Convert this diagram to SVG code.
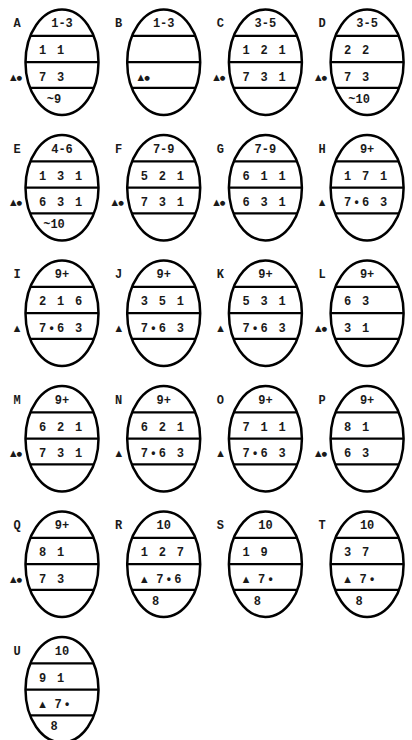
<svg xmlns="http://www.w3.org/2000/svg" xmlns:xlink="http://www.w3.org/1999/xlink" width="412" height="740" viewBox="0 0 412 740">
<style>
.eg{fill:none;stroke:#000;stroke-width:2.5}
.ln{stroke:#000;stroke-width:2.2}
text{font-family:"Liberation Mono","DejaVu Sans Mono",monospace;font-size:12px;font-weight:bold;fill:#1a1a1a}
.r{letter-spacing:1.8px}
.c{text-anchor:middle}
.m{font-family:"DejaVu Sans",sans-serif;font-size:8.5px;text-anchor:middle}
.d{font-size:6.5px}
</style>
<defs>
<g id="egg">
<ellipse class="eg" cx="0" cy="0" rx="36.5" ry="52.7"/>
<line class="ln" x1="-31.6" y1="-26.4" x2="31.6" y2="-26.4"/>
<line class="ln" x1="-36.5" y1="0" x2="36.5" y2="0"/>
<line class="ln" x1="-31.9" y1="25.6" x2="31.9" y2="25.6"/>
</g>
</defs>
<g id="connectors"/>
<g id="A" transform="translate(62,62.2)"><use href="#egg"/><text class="c" x="-45" y="-35">A</text><text class="c" x="0" y="-35">1-3</text><text class="r" x="-23" y="-8">1 1</text><text class="m" x="-46" y="17.5">▲<tspan class="d">●</tspan></text><text class="r" x="-23" y="18.5">7 3</text><text class="c" x="-8" y="40.5">~9</text></g>
<g id="B" transform="translate(163.7,62.2)"><use href="#egg"/><text class="c" x="-45" y="-35">B</text><text class="c" x="0" y="-35">1-3</text><text class="m" x="-20" y="17.5">▲<tspan class="d">●</tspan></text></g>
<g id="C" transform="translate(265.4,62.2)"><use href="#egg"/><text class="c" x="-45" y="-35">C</text><text class="c" x="0" y="-35">3-5</text><text class="r" x="-23" y="-8">1 2 1</text><text class="m" x="-46" y="17.5">▲<tspan class="d">●</tspan></text><text class="r" x="-23" y="18.5">7 3 1</text></g>
<g id="D" transform="translate(367.1,62.2)"><use href="#egg"/><text class="c" x="-45" y="-35">D</text><text class="c" x="0" y="-35">3-5</text><text class="r" x="-23" y="-8">2 2</text><text class="m" x="-46" y="17.5">▲<tspan class="d">●</tspan></text><text class="r" x="-23" y="18.5">7 3</text><text class="c" x="-8" y="40.5">~10</text></g>
<g id="E" transform="translate(62,187.7)"><use href="#egg"/><text class="c" x="-45" y="-35">E</text><text class="c" x="0" y="-35">4-6</text><text class="r" x="-23" y="-8">1 3 1</text><text class="m" x="-46" y="17.5">▲<tspan class="d">●</tspan></text><text class="r" x="-23" y="18.5">6 3 1</text><text class="c" x="-8" y="40.5">~10</text></g>
<g id="F" transform="translate(163.7,187.7)"><use href="#egg"/><text class="c" x="-45" y="-35">F</text><text class="c" x="0" y="-35">7-9</text><text class="r" x="-23" y="-8">5 2 1</text><text class="m" x="-46" y="17.5">▲<tspan class="d">●</tspan></text><text class="r" x="-23" y="18.5">7 3 1</text></g>
<g id="G" transform="translate(265.4,187.7)"><use href="#egg"/><text class="c" x="-45" y="-35">G</text><text class="c" x="0" y="-35">7-9</text><text class="r" x="-23" y="-8">6 1 1</text><text class="m" x="-46" y="17.5">▲<tspan class="d">●</tspan></text><text class="r" x="-23" y="18.5">6 3 1</text></g>
<g id="H" transform="translate(367.1,187.7)"><use href="#egg"/><text class="c" x="-45" y="-35">H</text><text class="c" x="0" y="-35">9+</text><text class="r" x="-23" y="-8">1 7 1</text><text class="m" x="-45" y="17.5">▲</text><text class="r" x="-23" y="18.5">7•6 3</text></g>
<g id="I" transform="translate(62,313.2)"><use href="#egg"/><text class="c" x="-45" y="-35">I</text><text class="c" x="0" y="-35">9+</text><text class="r" x="-23" y="-8">2 1 6</text><text class="m" x="-45" y="17.5">▲</text><text class="r" x="-23" y="18.5">7•6 3</text></g>
<g id="J" transform="translate(163.7,313.2)"><use href="#egg"/><text class="c" x="-45" y="-35">J</text><text class="c" x="0" y="-35">9+</text><text class="r" x="-23" y="-8">3 5 1</text><text class="m" x="-45" y="17.5">▲</text><text class="r" x="-23" y="18.5">7•6 3</text></g>
<g id="K" transform="translate(265.4,313.2)"><use href="#egg"/><text class="c" x="-45" y="-35">K</text><text class="c" x="0" y="-35">9+</text><text class="r" x="-23" y="-8">5 3 1</text><text class="m" x="-45" y="17.5">▲</text><text class="r" x="-23" y="18.5">7•6 3</text></g>
<g id="L" transform="translate(367.1,313.2)"><use href="#egg"/><text class="c" x="-45" y="-35">L</text><text class="c" x="0" y="-35">9+</text><text class="r" x="-23" y="-8">6 3</text><text class="m" x="-46" y="17.5">▲<tspan class="d">●</tspan></text><text class="r" x="-23" y="18.5">3 1</text></g>
<g id="M" transform="translate(62,438.7)"><use href="#egg"/><text class="c" x="-45" y="-35">M</text><text class="c" x="0" y="-35">9+</text><text class="r" x="-23" y="-8">6 2 1</text><text class="m" x="-46" y="17.5">▲<tspan class="d">●</tspan></text><text class="r" x="-23" y="18.5">7 3 1</text></g>
<g id="N" transform="translate(163.7,438.7)"><use href="#egg"/><text class="c" x="-45" y="-35">N</text><text class="c" x="0" y="-35">9+</text><text class="r" x="-23" y="-8">6 2 1</text><text class="m" x="-45" y="17.5">▲</text><text class="r" x="-23" y="18.5">7•6 3</text></g>
<g id="O" transform="translate(265.4,438.7)"><use href="#egg"/><text class="c" x="-45" y="-35">O</text><text class="c" x="0" y="-35">9+</text><text class="r" x="-23" y="-8">7 1 1</text><text class="m" x="-45" y="17.5">▲</text><text class="r" x="-23" y="18.5">7•6 3</text></g>
<g id="P" transform="translate(367.1,438.7)"><use href="#egg"/><text class="c" x="-45" y="-35">P</text><text class="c" x="0" y="-35">9+</text><text class="r" x="-23" y="-8">8 1</text><text class="m" x="-46" y="17.5">▲<tspan class="d">●</tspan></text><text class="r" x="-23" y="18.5">6 3</text></g>
<g id="Q" transform="translate(62,564.2)"><use href="#egg"/><text class="c" x="-45" y="-35">Q</text><text class="c" x="0" y="-35">9+</text><text class="r" x="-23" y="-8">8 1</text><text class="m" x="-46" y="17.5">▲<tspan class="d">●</tspan></text><text class="r" x="-23" y="18.5">7 3</text></g>
<g id="R" transform="translate(163.7,564.2)"><use href="#egg"/><text class="c" x="-45" y="-35">R</text><text class="c" x="0" y="-35">10</text><text class="r" x="-23" y="-8">1 2 7</text><text class="m" x="-19.5" y="17.5">▲</text><text class="r" x="-7.5" y="18.5">7•6</text><text class="c" x="-8" y="40.5">8</text></g>
<g id="S" transform="translate(265.4,564.2)"><use href="#egg"/><text class="c" x="-45" y="-35">S</text><text class="c" x="0" y="-35">10</text><text class="r" x="-23" y="-8">1 9</text><text class="m" x="-19.5" y="17.5">▲</text><text class="r" x="-7.5" y="18.5">7•</text><text class="c" x="-8" y="40.5">8</text></g>
<g id="T" transform="translate(367.1,564.2)"><use href="#egg"/><text class="c" x="-45" y="-35">T</text><text class="c" x="0" y="-35">10</text><text class="r" x="-23" y="-8">3 7</text><text class="m" x="-19.5" y="17.5">▲</text><text class="r" x="-7.5" y="18.5">7•</text><text class="c" x="-8" y="40.5">8</text></g>
<g id="U" transform="translate(62,689.7)"><use href="#egg"/><text class="c" x="-45" y="-35">U</text><text class="c" x="0" y="-35">10</text><text class="r" x="-23" y="-8">9 1</text><text class="m" x="-19.5" y="17.5">▲</text><text class="r" x="-7.5" y="18.5">7•</text><text class="c" x="-8" y="40.5">8</text></g>
</svg>
